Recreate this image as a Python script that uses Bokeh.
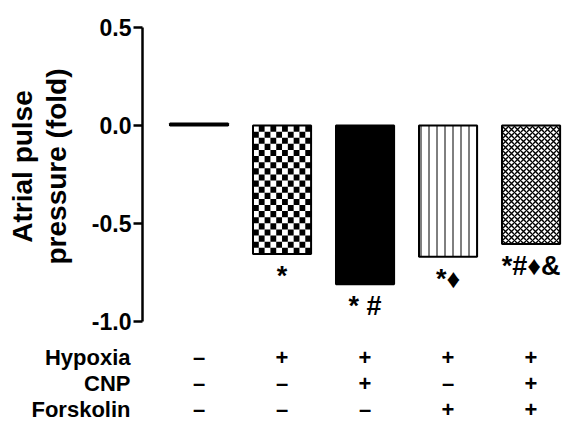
import numpy as np
from bokeh.plotting import figure
from bokeh.layouts import column, row
from bokeh.models import (ColumnDataSource, Range1d, FixedTicker, NumeralTickFormatter)
from bokeh.core.properties import value
from bokeh.embed import file_html
from bokeh.resources import INLINE

# ---- data ----
groups = [1, 2, 3, 4, 5]
means = [0.01, -0.655, -0.81, -0.67, -0.605]
marks = ["", "*", "* #", "*\u2666", "*#\u2666&"]
row_names = ["Hypoxia", "CNP", "Forskolin"]
hypoxia = ["\u2013", "+", "+", "+", "+"]
cnp = ["\u2013", "\u2013", "+", "\u2013", "+"]
forskolin = ["\u2013", "\u2013", "\u2013", "+", "+"]
y_ticks = [-1.0, -0.5, 0.0, 0.5]
y_label_lines = ["Atrial pulse", "pressure (fold)"]

# ---- style ----
fills = ["white", "white", "black", "white", "white"]
patterns = [" ", " ", " ", "vertical_line", "diagonal_cross"]
hatch_scales = [8, 8, 8, 8, 6]
hatch_weights = [1, 1, 1, 1, 1.4]
checker_group = 1          # index of the checkerboard bar
BAR_W = 0.70
FONT = "Liberation Sans"

W, H = 566, 432
LEFT_W = 88
MAIN_H = 343
yr = Range1d(-1.112, 0.5)

src = ColumnDataSource(dict(x=groups, top=means, fill=fills, pat=patterns,
                            hs=hatch_scales, hw=hatch_weights, mark=marks))

# ---------- y-label panel ----------
lf = figure(width=LEFT_W, height=MAIN_H, output_backend="svg", toolbar_location=None,
            x_range=Range1d(0, LEFT_W), y_range=yr, min_border_left=0,
            min_border_right=0, min_border_top=27, min_border_bottom=0,
            outline_line_color=None)
lf.axis.visible = False
lf.grid.visible = False
lf.text(x=[22, 56], y=[-0.209, -0.209], text=y_label_lines, angle=np.pi / 2,
        text_align="center", text_baseline="middle", text_font=value(FONT),
        text_font_style="bold", text_font_size="28px", text_color="black")

# ---------- main bar chart ----------
p = figure(width=W - LEFT_W, height=MAIN_H, output_backend="svg", toolbar_location=None,
           x_range=Range1d(0.319, 5.427), y_range=yr,
           min_border_left=142 - LEFT_W, min_border_right=0, min_border_top=27,
           min_border_bottom=0, outline_line_color=None)
p.xaxis.visible = False
p.grid.visible = False

p.vbar(x="x", top="top", bottom=0, width=BAR_W, source=src,
       fill_color="fill", line_color=None,
       hatch_pattern="pat", hatch_scale="hs", hatch_color="black",
       hatch_weight="hw", hatch_alpha=1.0)

# checkerboard texture for the hypoxia-only bar, derived from its value
cx, cv = groups[checker_group], means[checker_group]
ncol = 10
nrow = max(1, int(round(abs(cv) / 0.0305)))
xe = np.linspace(cx - BAR_W / 2, cx + BAR_W / 2, ncol + 1)
ye = np.linspace(0, cv, nrow + 1)
L, R, T, B = [], [], [], []
for i in range(nrow):
    for j in range(ncol):
        if (i + j) % 2 == 1:
            L.append(xe[j]); R.append(xe[j + 1]); T.append(ye[i]); B.append(ye[i + 1])
p.quad(left=L, right=R, top=T, bottom=B, fill_color="black", line_color=None)

p.vbar(x="x", top="top", bottom=0, width=BAR_W, source=src,
       fill_color=None, line_color="black", line_width=2)

p.text(x="x", y="top", text="mark", source=src, text_align="center",
       text_baseline="top", y_offset=7, text_font=value(FONT),
       text_font_style="bold", text_font_size="27px", text_color="black")

ax = p.yaxis[0]
ax.ticker = FixedTicker(ticks=y_ticks)
ax.formatter = NumeralTickFormatter(format="0.0")
ax.bounds = (-1.0, 0.5)
ax.axis_line_width = 2.5
ax.major_tick_line_width = 2.5
ax.major_tick_out = 9
ax.major_tick_in = 0
ax.minor_tick_out = 0
ax.minor_tick_in = 0
ax.major_label_standoff = 2
ax.major_label_text_font = FONT
ax.major_label_text_font_style = "bold"
ax.major_label_text_font_size = "23px"
ax.major_label_text_color = "black"

# ---------- condition table ----------
t = figure(width=W, height=H - MAIN_H, output_backend="svg", toolbar_location=None,
           x_range=Range1d(1 - 198.5 / 83, 1 + (W - 198.5) / 83),
           y_range=Range1d(H - MAIN_H, 0), min_border=0, outline_line_color=None)
t.axis.visible = False
t.grid.visible = False
row_y = [14, 40, 66]
for ry, name, vals in zip(row_y, row_names, [hypoxia, cnp, forskolin]):
    t.text(x=[1 - 68.5 / 83], y=[ry], text=[name], text_align="right",
           text_baseline="middle", text_font=value(FONT), text_font_style="bold",
           text_font_size="22px", text_color="black")
    t.text(x=groups, y=[ry] * len(groups), text=vals, text_align="center",
           text_baseline="middle", text_font=value(FONT), text_font_style="bold",
           text_font_size="22px", text_color="black")

layout = column(row(lf, p, spacing=0), t, spacing=0)
open("out.html", "w").write(file_html(layout, INLINE))
